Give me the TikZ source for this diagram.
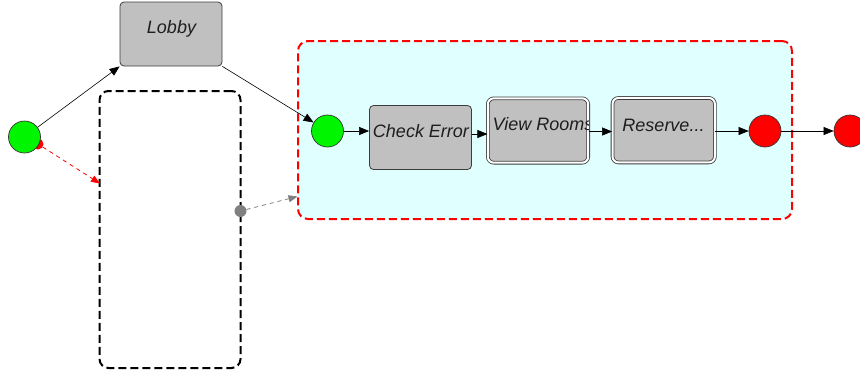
\documentclass[tikz,border=0pt]{standalone}
\usepackage{fontspec}
\setmainfont{Liberation Sans}
\usetikzlibrary{arrows.meta}
\definecolor{boxgray}{RGB}{192,192,192}
\definecolor{edgegray}{RGB}{60,60,60}
\definecolor{regcyan}{RGB}{224,255,255}
\definecolor{sgreen}{RGB}{0,245,0}
\definecolor{sred}{RGB}{255,0,0}
\definecolor{dotgray}{RGB}{128,128,128}
\definecolor{txt}{RGB}{30,30,30}
\begin{document}
\begin{tikzpicture}[x=1pt,y=-1pt,
  statebox/.style={draw=edgegray, fill=boxgray, rounded corners=4pt, line width=0.8pt, inner sep=0pt},
  dblbox/.style={statebox, double=white, double distance=2pt, rounded corners=6pt},
  lbl/.style={font=\fontsize{18}{20}\selectfont\itshape, text=txt, inner sep=0pt, anchor=base},
  startdot/.style={circle, draw=black!80, fill=sgreen, line width=0.7pt, minimum size=32pt, inner sep=0pt},
  enddot/.style={circle, draw=black!80, fill=sred, line width=0.7pt, minimum size=32pt, inner sep=0pt},
  flow/.style={draw=black, line width=0.6pt, -{Triangle[length=10pt,width=8pt]}},
  region/.style={rounded corners=10pt, line width=2pt, dash pattern=on 8pt off 4pt},
]
\useasboundingbox (0,0) rectangle (860,373);
\clip (0,0) rectangle (860,373);

% regions
\node[region, draw=sred, fill=regcyan, minimum width=494pt, minimum height=178pt, inner sep=0pt] (reg) at (545,130) {};
\node[region, draw=black, rounded corners=9pt, minimum width=141pt, minimum height=277pt, inner sep=0pt] (hole) at (170,229.5) {};

% start
\node[circle, fill=sred, minimum size=11pt, inner sep=0pt] (rdot) at (38,144) {};
\node[startdot] (start) at (24.5,137) {};

% Lobby
\node[statebox, minimum width=102pt, minimum height=64pt] (lobby) at (171,34) {};
\node[lbl] (lobbyt) at (171.5,33.5) {Lobby};

% inner states
\node[startdot] (istart) at (327.5,131) {};
\node[statebox, minimum width=102pt, minimum height=64pt] (check) at (420.5,137.5) {};
\node[lbl] (checkt) at (421,137.5) {Check Error};
\node[dblbox, minimum width=100.4pt, minimum height=64.4pt] (vr) at (538,130.5) {};
\begin{scope}
\clip (490,100) rectangle (588,161);
\node[lbl, anchor=base west] (vrt) at (492.5,130.5) {View Rooms};
\end{scope}
\node[dblbox, minimum width=102.4pt, minimum height=64.5pt] (res) at (663.7,130.2) {};
\node[lbl] (rest) at (663.5,131) {Reserve...};
\node[enddot] (iend) at (765,131) {};
\node[enddot] (oend) at (850,131) {};

% gray dot
\node[circle, fill=dotgray, minimum size=12pt, inner sep=0pt] (gdot) at (240.5,211) {};
\coordinate (htip) at (100,183.5);
\coordinate (rtip) at (297.5,196.5);

% connectors
\draw[flow] (start) -- (lobby.south west);
\draw[flow] (lobby.south east) -- (istart);
\draw[flow] (istart) -- (istart -| check.west);
\draw[flow] (check.east |- 0,134) -- (vr.west |- 0,134);
\draw[flow] (vr.east |- 0,131.5) -- (res.west |- 0,131.5);
\draw[flow] (res.east |- iend) -- (iend);
\draw[flow] (iend) -- (oend);
\draw[draw=sred, line width=0.8pt, dash pattern=on 4pt off 4pt, -{Triangle[length=9pt,width=7pt]}] (rdot) -- (htip);
\draw[draw=dotgray, line width=0.8pt, dash pattern=on 4pt off 4pt, -{Triangle[length=9pt,width=7pt]}] (gdot) -- (rtip);
\end{tikzpicture}
\end{document}
